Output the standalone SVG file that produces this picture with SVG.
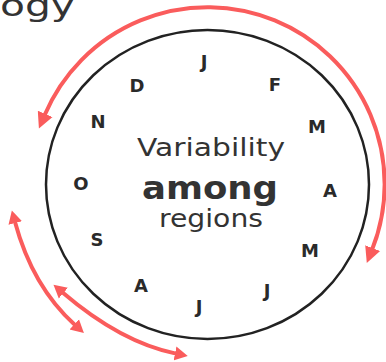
<svg xmlns="http://www.w3.org/2000/svg" width="386" height="362" viewBox="0 0 386 362">
  <style>
    .txt { font-family: "DejaVu Sans", "Liberation Sans", sans-serif; fill: #333333; }
    .month { font-family: "DejaVu Sans", "Liberation Sans", sans-serif; font-size: 18px; font-weight: 600; fill: #2a2a2a; text-anchor: middle; }
    .red { fill: none; stroke: #fa5c5c; stroke-width: 4; }
  </style>
  <defs>
    <marker id="head" markerUnits="userSpaceOnUse" markerWidth="20" markerHeight="20" refX="1" refY="8" orient="auto-start-reverse" viewBox="0 0 20 16">
      <path d="M0,0 L16,8 L0,16 Z" fill="#fa5c5c"/>
    </marker>
    <marker id="headS" markerUnits="userSpaceOnUse" markerWidth="16" markerHeight="16" refX="1" refY="7" orient="auto-start-reverse" viewBox="0 0 16 14">
      <path d="M0,0 L13,7 L0,14 Z" fill="#fa5c5c"/>
    </marker>
  </defs>

  <g id="title">
    <text class="txt" x="0" y="16" font-size="30" textLength="75" lengthAdjust="spacingAndGlyphs">ogy</text>
  </g>

  <g id="cycle">
    <ellipse cx="207.5" cy="184.5" rx="161.5" ry="154.5" fill="none" stroke="#222222" stroke-width="2.5"/>
  </g>

  <g id="center-label">
    <text class="txt" x="211" y="155.7" font-size="24" text-anchor="middle" textLength="148" lengthAdjust="spacingAndGlyphs">Variability</text>
    <text class="txt" x="210" y="199.3" font-size="32" font-weight="bold" text-anchor="middle" textLength="136" lengthAdjust="spacingAndGlyphs">among</text>
    <text class="txt" x="211" y="227" font-size="25" text-anchor="middle" textLength="104" lengthAdjust="spacingAndGlyphs">regions</text>
  </g>

  <g id="months">
    <text class="month" x="204" y="68">J</text>
    <text class="month" x="275" y="91">F</text>
    <text class="month" x="317" y="133">M</text>
    <text class="month" x="330" y="197">A</text>
    <text class="month" x="310" y="257">M</text>
    <text class="month" x="267" y="297">J</text>
    <text class="month" x="199" y="313">J</text>
    <text class="month" x="141" y="292">A</text>
    <text class="month" x="97" y="246">S</text>
    <text class="month" x="81" y="190">O</text>
    <text class="month" x="98" y="128">N</text>
    <text class="month" x="137" y="92">D</text>
  </g>

  <g id="connectors">
    <path class="red" d="M44.8,114.8 A177,177 0 0 1 372.3,249.1" marker-start="url(#head)" marker-end="url(#head)"/>
    <path class="red" d="M15,222 Q32.5,286.7 75,325" marker-start="url(#headS)" marker-end="url(#headS)"/>
    <path class="red" d="M62.6,292.5 Q120.9,342.4 176,353.6" marker-start="url(#headS)" marker-end="url(#headS)"/>
  </g>
</svg>
